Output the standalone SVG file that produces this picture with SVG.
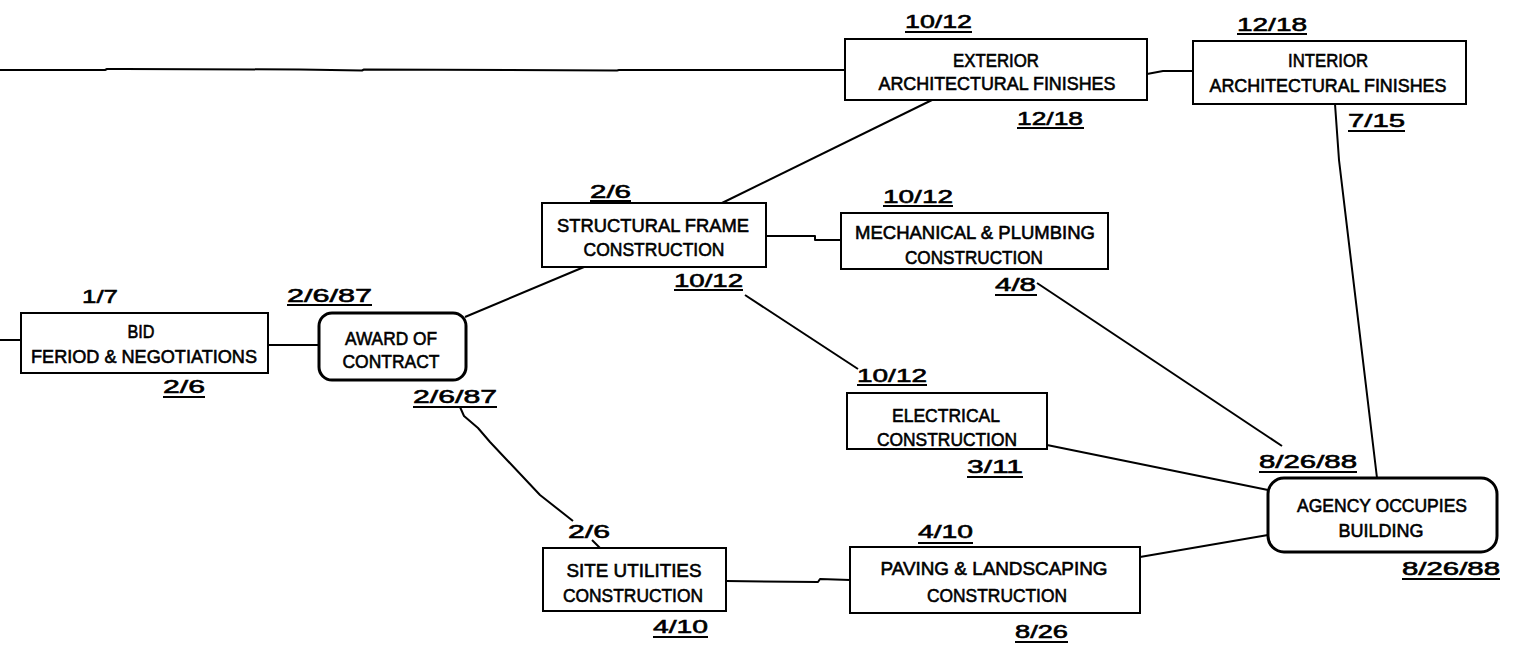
<svg xmlns="http://www.w3.org/2000/svg" width="1518" height="656" viewBox="0 0 1518 656">
<style>
.box{fill:#fff;stroke:#000;stroke-width:2}
.rbox{fill:#fff;stroke:#000;stroke-width:3}
.t{font-family:"Liberation Sans",Arial,sans-serif;font-size:19px;fill:#000;stroke:#000;stroke-width:0.6;text-anchor:middle}
.d{font-family:"Liberation Sans",Arial,sans-serif;font-size:19px;fill:#000;stroke:#000;stroke-width:0.6}
.ul{stroke:#000;stroke-width:2}
.c{fill:none;stroke:#000;stroke-width:2;stroke-linejoin:round}
</style>
<rect width="1518" height="656" fill="#fff"/>
<g id="connectors">
<polyline class="c" points="0,70 105,70 107,69 124,69 300,69.5 362,70.5 364,69.5 617,70.5 619,70 845,70"/>
<polyline class="c" points="1147,74 1163,71 1193,71"/>
<polyline class="c" points="1335,104 1339,160 1377,478"/>
<polyline class="c" points="722,203 932,100"/>
<polyline class="c" points="0,340 21,340"/>
<polyline class="c" points="268,345 319,345"/>
<polyline class="c" points="465,317 584,267"/>
<polyline class="c" points="460,407 464,416 478,428 490,442 540,495 573,521"/>
<polyline class="c" points="592,540 600,548"/>
<polyline class="c" points="766,236 815,236 815,240 841,240"/>
<polyline class="c" points="745,295 858,369"/>
<polyline class="c" points="1037,283 1282,446"/>
<polyline class="c" points="1047,445 1268,490"/>
<polyline class="c" points="726,581 818,582 820,579 850,580"/>
<polyline class="c" points="1140,557 1268,535"/>
</g>
<g id="exterior">
<rect class="box" x="845" y="39" width="302" height="61"/>
<text class="t" x="996" y="67" textLength="86" lengthAdjust="spacingAndGlyphs">EXTERIOR</text>
<text class="t" x="997" y="90" textLength="237" lengthAdjust="spacingAndGlyphs">ARCHITECTURAL FINISHES</text>
<text class="d" x="905" y="28" textLength="67" lengthAdjust="spacingAndGlyphs">10/12</text>
<line class="ul" x1="905" y1="32" x2="972" y2="32"/>
<text class="d" x="1017" y="125" textLength="66" lengthAdjust="spacingAndGlyphs">12/18</text>
<line class="ul" x1="1017" y1="128" x2="1084" y2="128"/>
</g>
<g id="interior">
<rect class="box" x="1193" y="41" width="273" height="63"/>
<text class="t" x="1328" y="67" textLength="80" lengthAdjust="spacingAndGlyphs">INTERIOR</text>
<text class="t" x="1328" y="92" textLength="237" lengthAdjust="spacingAndGlyphs">ARCHITECTURAL FINISHES</text>
<text class="d" x="1237" y="31" textLength="70" lengthAdjust="spacingAndGlyphs">12/18</text>
<line class="ul" x1="1237" y1="34" x2="1307" y2="34"/>
<text class="d" x="1348" y="127" textLength="57" lengthAdjust="spacingAndGlyphs">7/15</text>
<line class="ul" x1="1348" y1="131" x2="1405" y2="131"/>
</g>
<g id="structural">
<rect class="box" x="542" y="203" width="224" height="64"/>
<text class="t" x="653" y="232" textLength="192" lengthAdjust="spacingAndGlyphs">STRUCTURAL FRAME</text>
<text class="t" x="654" y="256" textLength="141" lengthAdjust="spacingAndGlyphs">CONSTRUCTION</text>
<text class="d" x="590" y="198" textLength="41" lengthAdjust="spacingAndGlyphs">2/6</text>
<line class="ul" x1="590" y1="201" x2="631" y2="201"/>
<text class="d" x="674" y="287" textLength="69" lengthAdjust="spacingAndGlyphs">10/12</text>
<line class="ul" x1="674" y1="290" x2="743" y2="290"/>
</g>
<g id="mechanical">
<rect class="box" x="841" y="213" width="267" height="56"/>
<text class="t" x="975" y="239" textLength="240" lengthAdjust="spacingAndGlyphs">MECHANICAL &amp; PLUMBING</text>
<text class="t" x="974" y="264" textLength="138" lengthAdjust="spacingAndGlyphs">CONSTRUCTION</text>
<text class="d" x="883" y="203" textLength="70" lengthAdjust="spacingAndGlyphs">10/12</text>
<line class="ul" x1="883" y1="206" x2="953" y2="206"/>
<text class="d" x="995" y="291" textLength="41" lengthAdjust="spacingAndGlyphs">4/8</text>
<line class="ul" x1="995" y1="295" x2="1037" y2="295"/>
</g>
<g id="bid">
<rect class="box" x="21" y="313" width="247" height="60"/>
<text class="t" x="141" y="338" textLength="27" lengthAdjust="spacingAndGlyphs">BID</text>
<text class="t" x="144" y="363" textLength="226" lengthAdjust="spacingAndGlyphs">FERIOD &amp; NEGOTIATIONS</text>
<text class="d" x="82" y="303" textLength="36" lengthAdjust="spacingAndGlyphs">1/7</text>
<text class="d" x="163" y="393" textLength="42" lengthAdjust="spacingAndGlyphs">2/6</text>
<line class="ul" x1="163" y1="397" x2="205" y2="397"/>
</g>
<g id="award">
<rect class="rbox" x="319" y="313" width="147" height="67" rx="13"/>
<text class="t" x="391" y="345" textLength="92" lengthAdjust="spacingAndGlyphs">AWARD OF</text>
<text class="t" x="391" y="368" textLength="97" lengthAdjust="spacingAndGlyphs">CONTRACT</text>
<text class="d" x="287" y="302" textLength="85" lengthAdjust="spacingAndGlyphs">2/6/87</text>
<line class="ul" x1="287" y1="305" x2="372" y2="305"/>
<text class="d" x="413" y="403" textLength="84" lengthAdjust="spacingAndGlyphs">2/6/87</text>
<line class="ul" x1="413" y1="407" x2="497" y2="407"/>
</g>
<g id="electrical">
<rect class="box" x="847" y="393" width="200" height="56"/>
<text class="t" x="946" y="422" textLength="108" lengthAdjust="spacingAndGlyphs">ELECTRICAL</text>
<text class="t" x="947" y="446" textLength="140" lengthAdjust="spacingAndGlyphs">CONSTRUCTION</text>
<text class="d" x="857" y="382" textLength="70" lengthAdjust="spacingAndGlyphs">10/12</text>
<line class="ul" x1="857" y1="385" x2="927" y2="385"/>
<text class="d" x="967" y="473" textLength="56" lengthAdjust="spacingAndGlyphs">3/11</text>
<line class="ul" x1="967" y1="477" x2="1023" y2="477"/>
</g>
<g id="site">
<rect class="box" x="543" y="548" width="183" height="63"/>
<text class="t" x="634" y="577" textLength="135" lengthAdjust="spacingAndGlyphs">SITE UTILITIES</text>
<text class="t" x="633" y="602" textLength="140" lengthAdjust="spacingAndGlyphs">CONSTRUCTION</text>
<text class="d" x="568" y="538" textLength="42" lengthAdjust="spacingAndGlyphs">2/6</text>
<text class="d" x="653" y="633" textLength="55" lengthAdjust="spacingAndGlyphs">4/10</text>
<line class="ul" x1="653" y1="637" x2="708" y2="637"/>
</g>
<g id="paving">
<rect class="box" x="850" y="547" width="290" height="66"/>
<text class="t" x="994" y="575" textLength="227" lengthAdjust="spacingAndGlyphs">PAVING &amp; LANDSCAPING</text>
<text class="t" x="997" y="602" textLength="140" lengthAdjust="spacingAndGlyphs">CONSTRUCTION</text>
<text class="d" x="918" y="538" textLength="55" lengthAdjust="spacingAndGlyphs">4/10</text>
<line class="ul" x1="918" y1="543" x2="973" y2="543"/>
<text class="d" x="1015" y="638" textLength="53" lengthAdjust="spacingAndGlyphs">8/26</text>
<line class="ul" x1="1015" y1="642" x2="1068" y2="642"/>
</g>
<g id="agency">
<rect class="rbox" x="1268" y="478" width="229" height="74" rx="16"/>
<text class="t" x="1382" y="512" textLength="170" lengthAdjust="spacingAndGlyphs">AGENCY OCCUPIES</text>
<text class="t" x="1381" y="537" textLength="85" lengthAdjust="spacingAndGlyphs">BUILDING</text>
<text class="d" x="1259" y="468" textLength="98" lengthAdjust="spacingAndGlyphs">8/26/88</text>
<line class="ul" x1="1259" y1="472" x2="1357" y2="472"/>
<text class="d" x="1402" y="575" textLength="98" lengthAdjust="spacingAndGlyphs">8/26/88</text>
<line class="ul" x1="1402" y1="579" x2="1500" y2="579"/>
</g>
</svg>
